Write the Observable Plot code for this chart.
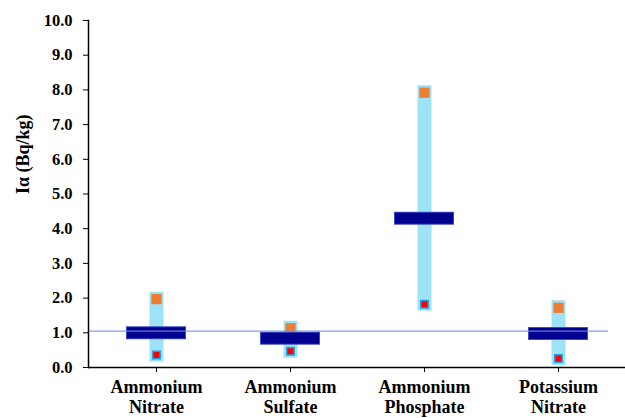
<!DOCTYPE html>
<html>
<head>
<meta charset="utf-8">
<script src="https://cdn.jsdelivr.net/npm/d3@7"></script>
<script src="https://cdn.jsdelivr.net/npm/@observablehq/plot@0.6"></script>
<style>
  html, body { margin: 0; padding: 0; background: #fff; }
  svg text { font-family: "Liberation Serif", serif !important; font-weight: bold !important; }
</style>
</head>
<body>
<div id="chart"></div>
<script>
const categories = ["Ammonium Nitrate", "Ammonium Sulfate", "Ammonium Phosphate", "Potassium Nitrate"];
const labelLines = ["Ammonium\nNitrate", "Ammonium\nSulfate", "Ammonium\nPhosphate", "Potassium\nNitrate"];
const maxValues = [1.97, 1.13, 7.92, 1.72];
const minValues = [0.36, 0.47, 1.82, 0.26];
const meanValues = [1.00, 0.84, 4.30, 0.98];
const referenceValue = [1.05];
const yTicks = [0, 1, 2, 3, 4, 5, 6, 7, 8, 9, 10];

const FONT = "Liberation Serif";
const data = categories.map((c, i) => ({cat: c, max: maxValues[i], min: minValues[i], mean: meanValues[i]}));
const labelOf = new Map(categories.map((c, i) => [c, labelLines[i]]));

const chart = Plot.plot({
  width: 625,
  height: 418,
  marginLeft: 88,
  marginRight: 0,
  marginTop: 20,
  marginBottom: 51,
  style: {fontFamily: FONT, fontWeight: "bold", fontSize: "16.5px", color: "#000", background: "#fff"},
  x: {domain: categories, padding: 0},
  y: {domain: [0, 10]},
  marks: [
    Plot.ruleX(data, {x: "cat", y1: "min", y2: "max", stroke: "#9ee2f8", strokeWidth: 14, strokeLinecap: "square"}),
    Plot.dot(data, {x: "cat", y: "max", symbol: "square", r: 5.8, fill: "#ef7d31", stroke: "none"}),
    Plot.dot(data, {x: "cat", y: "min", symbol: "square", r: 4.2, fill: "#ff0000", stroke: "#1fa0ec", strokeWidth: 1.5}),
    Plot.tickY(data, {x: "cat", y: "mean", stroke: "#3a4cc4", strokeWidth: 13, inset: 37}),
    Plot.tickY(data, {x: "cat", y: "mean", stroke: "#00008e", strokeWidth: 11, inset: 38}),
    Plot.ruleY(referenceValue, {stroke: "#7292dc", strokeWidth: 1.3, strokeOpacity: 0.85, insetRight: 17}),
    Plot.ruleY([0], {stroke: "#000", strokeWidth: 1.5}),
    Plot.frame({anchor: "left", stroke: "#000", strokeWidth: 1.5}),
    Plot.axisY({ticks: yTicks, tickFormat: d => d.toFixed(1), tickSize: 5, tickPadding: 11, label: null, fontSize: 16.5, fontFamily: FONT, fontWeight: "bold"}),
    Plot.axisX({tickFormat: d => labelOf.get(d), tickSize: 5, tickPadding: 6, label: null, fontSize: 18, lineHeight: 1.12, fontFamily: FONT, fontWeight: "bold"}),
    Plot.text(["I\u03b1 (Bq/kg)"], {frameAnchor: "left", rotate: -90, dx: -65, fontSize: 18, fontWeight: "bold", fontFamily: FONT})
  ]
});
document.getElementById("chart").appendChild(chart);
</script>
</body>
</html>
